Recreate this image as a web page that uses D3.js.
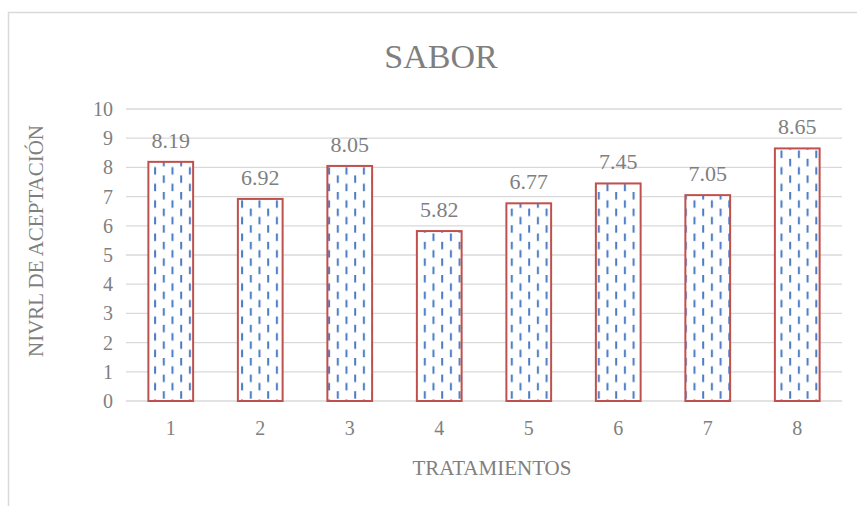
<!DOCTYPE html>
<html>
<head>
<meta charset="utf-8">
<script src="https://cdn.jsdelivr.net/npm/d3@7"></script>
<style>
  body { margin: 0; background: #fff; }
  text { font-family: "Liberation Serif", "DejaVu Serif", serif; fill: #7f7f7f; }
</style>
</head>
<body>
<div class="chart"></div>
<script>
// chart values
var categories = ["1", "2", "3", "4", "5", "6", "7", "8"];
var values = [8.19, 6.92, 8.05, 5.82, 6.77, 7.45, 7.05, 8.65];
var yTicks = [0, 1, 2, 3, 4, 5, 6, 7, 8, 9, 10];

var svgWidth = 857;
var svgHeight = 506;

var margin = { top: 109, right: 15, bottom: 105, left: 126 };
var width = svgWidth - margin.left - margin.right;
var height = svgHeight - margin.top - margin.bottom;

var svg = d3.select(".chart")
  .append("svg")
  .attr("width", svgWidth)
  .attr("height", svgHeight);

// dashed vertical fill pattern
var pattern = svg.append("defs").append("pattern")
  .attr("id", "dashVert")
  .attr("patternUnits", "userSpaceOnUse")
  .attr("width", 17.4)
  .attr("height", 16.6);
pattern.append("rect").attr("width", 17.4).attr("height", 16.6).attr("fill", "#fff");
pattern.append("rect").attr("x", 2).attr("y", 0).attr("width", 2).attr("height", 7.5).attr("fill", "#4a7cc4");
pattern.append("rect").attr("x", 10.7).attr("y", 8.3).attr("width", 2).attr("height", 7.5).attr("fill", "#4a7cc4");

// outer chart border
svg.append("rect")
  .attr("x", 8.5)
  .attr("y", 12.5)
  .attr("width", 870)
  .attr("height", 520)
  .attr("fill", "none")
  .attr("stroke", "#d9d9d9")
  .attr("stroke-width", 1.5);

var chartGroup = svg.append("g")
  .attr("transform", `translate(${margin.left}, ${margin.top})`);

var xScale = d3.scaleBand()
  .domain(categories)
  .range([0, width])
  .paddingInner(0.5)
  .paddingOuter(0.25);

var yScale = d3.scaleLinear()
  .domain([0, 10])
  .range([height, 0]);

// gridlines
chartGroup.append("g")
  .selectAll("line")
  .data(yTicks)
  .enter()
  .append("line")
  .attr("x1", 0)
  .attr("x2", width)
  .attr("y1", d => yScale(d))
  .attr("y2", d => yScale(d))
  .attr("stroke", "#d9d9d9")
  .attr("stroke-width", 1.3);

// y axis
var leftAxis = d3.axisLeft(yScale).tickValues(yTicks).tickSize(0).tickPadding(13);
var yAxis = chartGroup.append("g").call(leftAxis);
yAxis.select(".domain").remove();
yAxis.selectAll("text")
  .attr("font-size", "20px")
  .attr("font-family", "Liberation Serif, serif")
  .attr("fill", "#7f7f7f");

// x axis
var bottomAxis = d3.axisBottom(xScale).tickSize(0).tickPadding(20);
var xAxis = chartGroup.append("g")
  .attr("transform", `translate(0, ${height})`)
  .call(bottomAxis);
xAxis.select(".domain").remove();
xAxis.selectAll("text")
  .attr("font-size", "20px")
  .attr("font-family", "Liberation Serif, serif")
  .attr("fill", "#7f7f7f");

// bars
chartGroup.selectAll(".bar")
  .data(values)
  .enter()
  .append("rect")
  .attr("class", "bar")
  .attr("x", (d, i) => xScale(categories[i]))
  .attr("y", d => yScale(d))
  .attr("width", xScale.bandwidth())
  .attr("height", d => height - yScale(d))
  .attr("fill", "url(#dashVert)")
  .attr("stroke", "#c0504d")
  .attr("stroke-width", 2);

// data labels
chartGroup.selectAll(".label")
  .data(values)
  .enter()
  .append("text")
  .attr("class", "label")
  .attr("x", (d, i) => xScale(categories[i]) + xScale.bandwidth() / 2)
  .attr("y", d => yScale(d) - 14)
  .attr("text-anchor", "middle")
  .attr("font-size", "22px")
  .text(d => d.toFixed(2));

// title
svg.append("text")
  .attr("x", 441)
  .attr("y", 68)
  .attr("text-anchor", "middle")
  .attr("font-size", "34px")
  .text("SABOR");

// axis titles
svg.append("text")
  .attr("x", 492)
  .attr("y", 475)
  .attr("text-anchor", "middle")
  .attr("font-size", "21px")
  .text("TRATAMIENTOS");

svg.append("text")
  .attr("transform", "rotate(-90)")
  .attr("x", -241)
  .attr("y", 43)
  .attr("text-anchor", "middle")
  .attr("font-size", "21px")
  .text("NIVRL DE ACEPTACIÓN");
</script>
</body>
</html>
